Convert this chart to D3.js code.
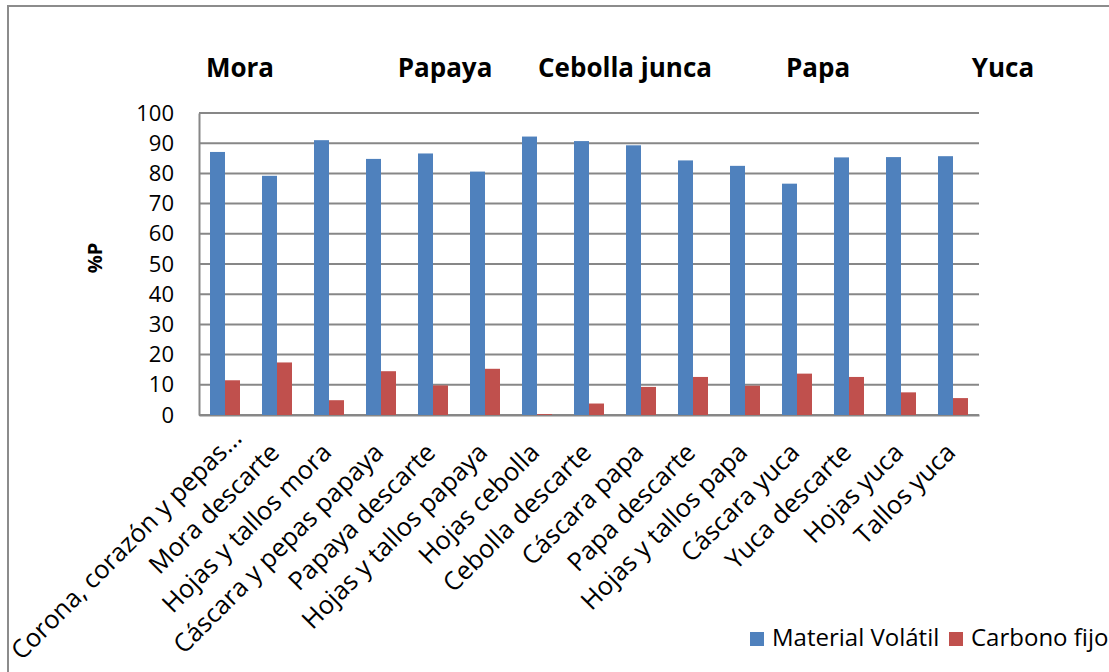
<!DOCTYPE html>
<html>
<head>
<meta charset="utf-8">
<script src="https://cdn.jsdelivr.net/npm/d3@7"></script>
<style>
  body { margin: 0; background: #fff; }
  svg { font-family: "Open Sans", sans-serif; }
</style>
</head>
<body>
<div id="graf"></div>
<script>
// Datos
categorias = [
  'Corona, corazón y pepas...', 'Mora descarte', 'Hojas y tallos mora',
  'Cáscara y pepas papaya', 'Papaya descarte', 'Hojas y tallos papaya',
  'Hojas cebolla', 'Cebolla descarte', 'Cáscara papa', 'Papa descarte',
  'Hojas y tallos papa', 'Cáscara yuca', 'Yuca descarte', 'Hojas yuca', 'Tallos yuca'
]
materialVolatil = [87.1, 79.2, 91.0, 84.8, 86.6, 80.6, 92.2, 90.7, 89.3, 84.3, 82.5, 76.6, 85.3, 85.4, 85.7]
carbonoFijo     = [11.5, 17.4, 4.9, 14.5, 9.8, 15.3, 0.3, 3.8, 9.3, 12.6, 9.7, 13.7, 12.6, 7.5, 5.6]
series = ['Material Volátil', 'Carbono fijo']
grupos = ['Mora', 'Papaya', 'Cebolla junca', 'Papa', 'Yuca']
ticksY = [0, 10, 20, 30, 40, 50, 60, 70, 80, 90, 100]

ancho_total = 1109
alto_total  = 672
margins = { top: 113, left: 199, right: 130, bottom: 257 }
ancho = ancho_total - margins.left - margins.right
alto  = alto_total - margins.top - margins.bottom

svg = d3.select('#graf').append('svg')
        .attr('width', ancho_total)
        .attr('height', alto_total)

// Borde del área del gráfico
svg.append('rect')
    .attr('x', 8).attr('y', 6)
    .attr('width', ancho_total + 10).attr('height', alto_total + 10)
    .attr('fill', 'none')
    .attr('stroke', '#8c8c8c')
    .attr('stroke-width', 2)

g = svg.append('g')
        .attr('transform', `translate(${ margins.left }, ${ margins.top })`)

// Escaladores
x = d3.scaleBand().domain(categorias).range([0, ancho]).paddingInner(0).paddingOuter(0)
xs = d3.scaleBand().domain(series).range([11, x.bandwidth() - 11])
y = d3.scaleLinear().domain([0, 100]).range([alto, 0])
color = d3.scaleOrdinal().domain(series).range(['#4F81BD', '#C0504D'])

// Rejilla
g.append('g')
  .selectAll('line')
  .data(ticksY)
  .join('line')
    .attr('x1', 0).attr('x2', ancho)
    .attr('y1', d => y(d)).attr('y2', d => y(d))
    .attr('stroke', '#878787')
    .attr('stroke-width', 2)

// Eje Y
yAxis = g.append('g')
          .call(d3.axisLeft(y).tickValues(ticksY).tickSize(0).tickPadding(25))
yAxis.select('.domain').attr('stroke', '#878787').attr('stroke-width', 2)
yAxis.selectAll('text')
      .attr('font-size', '22px')
      .attr('fill', '#000')
      .attr('font-family', '"Open Sans", sans-serif')

// Eje X
xAxis = g.append('g')
          .attr('transform', `translate(0, ${ alto })`)
          .call(d3.axisBottom(x).tickSize(0).tickFormat(''))
xAxis.select('.domain').attr('stroke', '#878787').attr('stroke-width', 2)

// etiquetas giradas (la truncada con "..." queda corrida, como en Excel)
g.append('g')
  .selectAll('text')
  .data(categorias)
  .join('text')
    .attr('transform', d => `translate(${ x(d) + x.bandwidth() / 2 + 4 }, ${ alto + 39 }) rotate(-45)`)
    .attr('x', d => d.endsWith('...') ? 20 : 0)
    .attr('text-anchor', 'end')
    .attr('font-size', '25.5px')
    .attr('fill', '#000')
    .text(d => d)

// Barras
datos = categorias.map((c, i) => ({ cat: c, valores: [materialVolatil[i], carbonoFijo[i]] }))

g.append('g')
  .selectAll('g')
  .data(datos)
  .join('g')
    .attr('transform', d => `translate(${ x(d.cat) }, 0)`)
  .selectAll('rect')
  .data(d => series.map((s, j) => ({ serie: s, valor: d.valores[j] })))
  .join('rect')
    .attr('x', d => xs(d.serie))
    .attr('width', xs.bandwidth())
    .attr('y', d => y(d.valor))
    .attr('height', d => alto - y(d.valor))
    .attr('fill', d => color(d.serie))

// Título eje Y
svg.append('text')
    .attr('transform', 'translate(102, 258) rotate(-90)')
    .attr('text-anchor', 'middle')
    .attr('font-size', '20px')
    .attr('font-weight', 'bold')
    .text('%P')

// Nombres de los grupos
gruposX = [240, 445, 625, 818, 1003]
svg.append('g')
  .selectAll('text')
  .data(grupos)
  .join('text')
    .attr('x', (d, i) => gruposX[i])
    .attr('y', 77)
    .attr('text-anchor', 'middle')
    .attr('font-size', '26px')
    .attr('font-weight', 'bold')
    .text(d => d)

// Leyenda
leyendaX = [750, 949]
leyenda = svg.append('g')
              .selectAll('g')
              .data(series)
              .join('g')
                .attr('transform', (d, i) => `translate(${ leyendaX[i] }, 632)`)
leyenda.append('rect')
        .attr('width', 14).attr('height', 14)
        .attr('fill', d => color(d))
leyenda.append('text')
        .attr('x', 22).attr('y', 14)
        .attr('font-size', '24px')
        .text(d => d)
</script>
</body>
</html>
